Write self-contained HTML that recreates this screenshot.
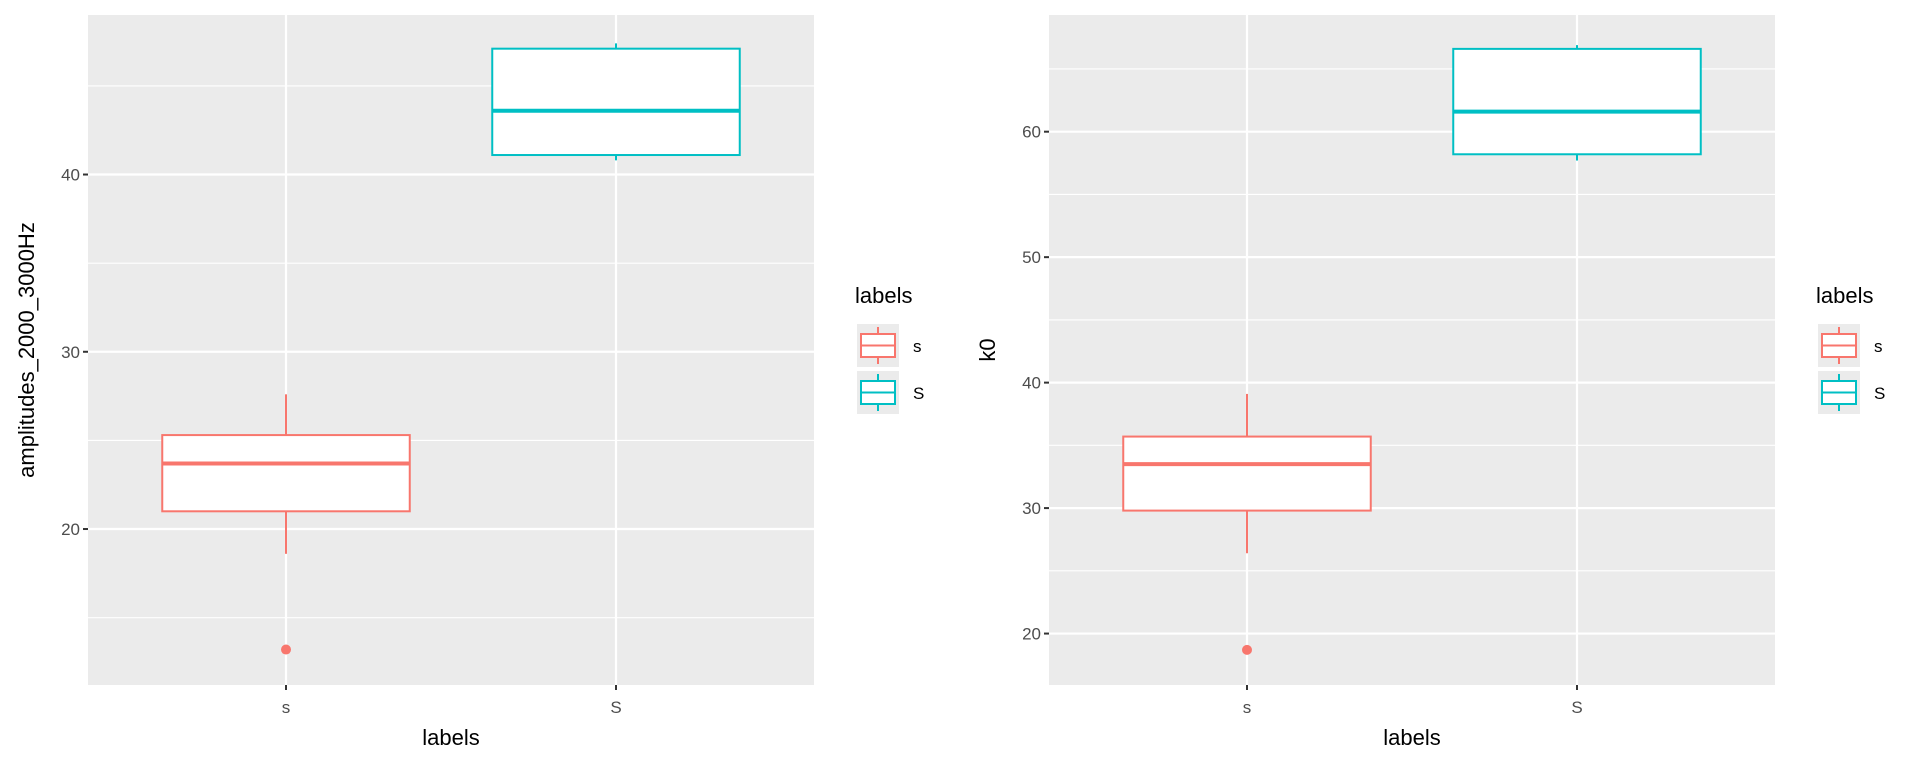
<!DOCTYPE html>
<html><head><meta charset="utf-8"><style>
html,body{margin:0;padding:0;background:#fff;}
svg{display:block;font-family:"Liberation Sans",Arial,sans-serif;}
</style></head><body>
<svg id="chart" width="1920" height="768" viewBox="0 0 1920 768" xmlns="http://www.w3.org/2000/svg"></svg>
<script>
const categories = ["s", "S"];
const colors = ["#F8766D", "#00BFC4"];

const ampWhiskerLow = [18.6, 40.8];
const ampQ1 = [21.0, 41.1];
const ampMedian = [23.7, 43.6];
const ampQ3 = [25.3, 47.1];
const ampWhiskerHigh = [27.6, 47.4];
const ampOutliers = [[13.2], []];
const ampTicks = [20, 30, 40];
const ampMinor = [15, 25, 35, 45];

const k0WhiskerLow = [26.4, 57.7];
const k0Q1 = [29.8, 58.2];
const k0Median = [33.5, 61.6];
const k0Q3 = [35.7, 66.6];
const k0WhiskerHigh = [39.1, 66.9];
const k0Outliers = [[18.7], []];
const k0Ticks = [20, 30, 40, 50, 60];
const k0Minor = [25, 35, 45, 55, 65];

const NS = "http://www.w3.org/2000/svg";
const svg = document.getElementById("chart");
function mk(tag, attrs, parent) {
  const e = document.createElementNS(NS, tag);
  for (const k in attrs) e.setAttribute(k, attrs[k]);
  (parent || svg).appendChild(e);
  return e;
}

function panel(opts) {
  const g = mk("g", {});
  
  
  const L = opts.x0, R = opts.x1, T = 15, B = 685;
  const y = v => B - (v - opts.ymin) / (opts.ymax - opts.ymin) * (B - T);
  const x = i => L + (i + 1 - 0.4) / 2.2 * (R - L);
  const bw = 0.75 / 2.2 * (R - L);
  const bg = mk("rect", {x: L, y: T, width: R - L, height: B - T, fill: "#EBEBEB"}, g);
  
  
  opts.minor.forEach(v => {
    const l = mk("line", {x1: L, x2: R, y1: y(v), y2: y(v), stroke: "#fff", "stroke-width": 1.1}, g);
    
    
  });
  opts.ticks.forEach(v => {
    const l = mk("line", {x1: L, x2: R, y1: y(v), y2: y(v), stroke: "#fff", "stroke-width": 2.2}, g);
    
    
    const tk = mk("line", {x1: L - 5, x2: L, y1: y(v), y2: y(v), stroke: "#333", "stroke-width": 2}, g);
    
    
    const t = mk("text", {x: L - 8, y: y(v) + 6, "text-anchor": "end", "font-size": 17, fill: "#4D4D4D"}, g);
    t.textContent = v;
    
    
  });
  categories.forEach((c, i) => {
    const l = mk("line", {x1: x(i), x2: x(i), y1: T, y2: B, stroke: "#fff", "stroke-width": 2.2}, g);
    
    
    const tk = mk("line", {x1: x(i), x2: x(i), y1: B, y2: B + 5, stroke: "#333", "stroke-width": 2}, g);
    
    
    const t = mk("text", {x: x(i), y: 713, "text-anchor": "middle", "font-size": 17, fill: "#4D4D4D"}, g);
    t.textContent = c;
    
    
  });
  categories.forEach((c, i) => {
    const bx = mk("g", {}, g);
    
    
    const col = colors[i];
    mk("line", {x1: x(i), x2: x(i), y1: y(opts.wh[i]), y2: y(opts.q3[i]), stroke: col, "stroke-width": 2}, bx);
    mk("line", {x1: x(i), x2: x(i), y1: y(opts.q1[i]), y2: y(opts.wl[i]), stroke: col, "stroke-width": 2}, bx);
    mk("rect", {x: x(i) - bw / 2, y: y(opts.q3[i]), width: bw, height: y(opts.q1[i]) - y(opts.q3[i]), fill: "#fff", stroke: col, "stroke-width": 2}, bx);
    mk("line", {x1: x(i) - bw / 2, x2: x(i) + bw / 2, y1: y(opts.med[i]), y2: y(opts.med[i]), stroke: col, "stroke-width": 4}, bx);
    opts.out[i].forEach(v => {
      const p = mk("circle", {cx: x(i), cy: y(v), r: 5, fill: col}, bx);
      
      
    });
  });
  const xt = mk("text", {x: (L + R) / 2, y: 745, "text-anchor": "middle", "font-size": 22, fill: "#000"}, g);
  xt.textContent = "labels";
  
  
  const yt = mk("text", {x: 0, y: 0, "text-anchor": "middle", "font-size": 22, fill: "#000", transform: `translate(${opts.ytx},${(T + B) / 2}) rotate(-90)`}, g);
  yt.textContent = opts.ytitle;
  
  
  const lg = mk("g", {}, g);
  
  
  const lx = opts.lx;
  const lt = mk("text", {x: lx, y: 303, "font-size": 22, fill: "#000"}, lg);
  lt.textContent = "labels";
  
  
  categories.forEach((c, i) => {
    const e = mk("g", {}, lg);
    
    
    const ky = 324 + i * 47;
    const col = colors[i];
    mk("rect", {x: lx + 2, y: ky, width: 42, height: 43, fill: "#EBEBEB"}, e);
    mk("line", {x1: lx + 23, x2: lx + 23, y1: ky + 3, y2: ky + 40, stroke: col, "stroke-width": 2}, e);
    mk("rect", {x: lx + 6, y: ky + 10, width: 34, height: 23, fill: "#fff", stroke: col, "stroke-width": 2}, e);
    mk("line", {x1: lx + 6, x2: lx + 40, y1: ky + 21.5, y2: ky + 21.5, stroke: col, "stroke-width": 2}, e);
    const t = mk("text", {x: lx + 58, y: ky + 28, "font-size": 17, fill: "#000"}, e);
    t.textContent = c;
  });
}

panel({name: "amplitudes-panel", x0: 88, x1: 814, ymin: 11.2, ymax: 49.0,
  wl: ampWhiskerLow, q1: ampQ1, med: ampMedian, q3: ampQ3, wh: ampWhiskerHigh, out: ampOutliers,
  ticks: ampTicks, minor: ampMinor, ytitle: "amplitudes_2000_3000Hz", ytx: 34, lx: 855});
panel({name: "k0-panel", x0: 1049, x1: 1775, ymin: 15.9, ymax: 69.3,
  wl: k0WhiskerLow, q1: k0Q1, med: k0Median, q3: k0Q3, wh: k0WhiskerHigh, out: k0Outliers,
  ticks: k0Ticks, minor: k0Minor, ytitle: "k0", ytx: 995, lx: 1816});
</script>
</body></html>
